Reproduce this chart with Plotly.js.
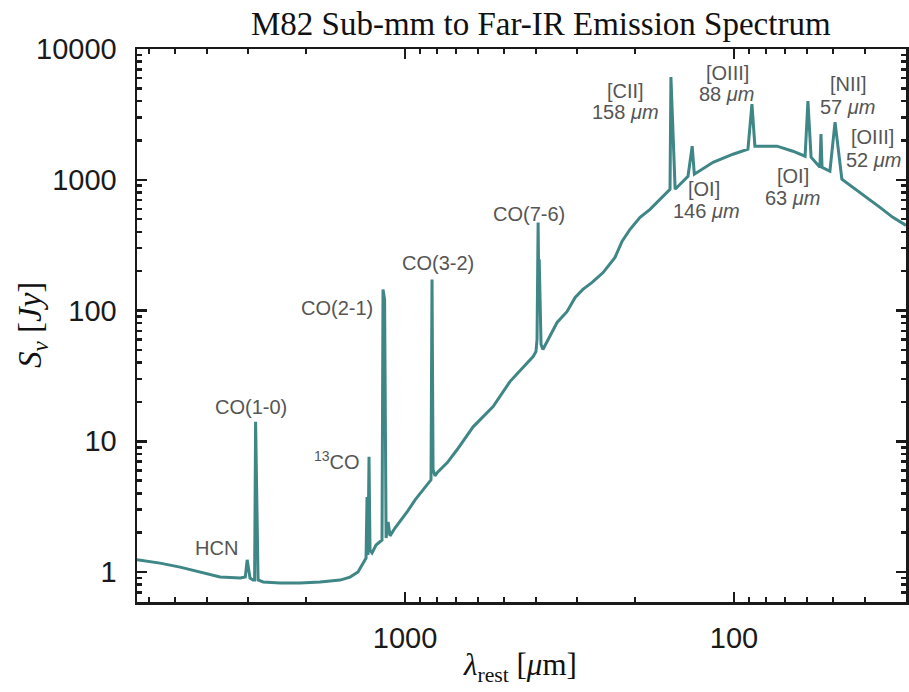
<!DOCTYPE html>
<html>
<head>
<meta charset="utf-8">
<script src="https://cdn.plot.ly/plotly-3.0.1.min.js"></script>
<style>html,body{margin:0;padding:0;background:#fff;}</style>
</head>
<body>
<div id="chart" style="width:909px;height:692px;"></div>
<script>
// Rest wavelength (µm) and flux density (Jy)
const wavelength_um = [6530, 5560, 4830, 4200, 3650, 3170, 3060, 3020, 2960, 2900, 2867, 2847, 2828, 2812, 2798, 2700, 2400, 2085, 1813, 1576, 1470, 1390, 1342, 1314, 1305, 1296, 1287, 1278, 1260, 1225, 1175, 1167, 1154, 1142, 1126, 1111, 1073, 986, 932, 882, 845, 834, 828, 822, 811, 799, 745, 695, 621, 540, 480, 426, 408, 400, 397, 394, 392, 391, 386, 381, 345, 322, 304, 288, 270, 250, 230, 219, 207, 193, 180, 168, 159, 156.5, 155.5, 151, 138, 134, 132, 115.8, 100.7, 90.7, 88.2, 86.4, 74.0, 66.2, 60.8, 59.6, 58.3, 55.6, 54.8, 54.4, 54.0, 51.1, 49.3, 47.0, 41.4, 36.0, 32.9, 30.0];
const flux_jy = [1.24, 1.17, 1.09, 1.00, 0.915, 0.90, 0.915, 1.24, 0.90, 0.87, 0.87, 14.1, 6.0, 2.7, 0.87, 0.84, 0.823, 0.823, 0.838, 0.868, 0.915, 1.0, 1.17, 1.28, 3.75, 1.35, 7.6, 1.47, 1.40, 1.61, 1.76, 145, 121, 1.82, 2.42, 1.89, 2.17, 2.88, 3.56, 4.25, 4.81, 5.07, 173, 6.05, 5.44, 5.74, 6.84, 8.61, 12.9, 18.4, 28.6, 40, 44.4, 48.5, 60, 472, 121, 246, 55, 50.3, 81, 98, 126, 145, 164, 195, 255, 338, 418, 516, 594, 709, 802, 846, 6100, 846, 1064, 1806, 1102, 1361, 1568, 1713, 3790, 1806, 1806, 1653, 1514, 3996, 1487, 1315, 1247, 2233, 1247, 1162, 2758, 1009, 802, 615, 516, 448];

const xTickVals = [1000, 100];
const xTickText = ["1000", "100"];
const xMinorVals = [6000, 5000, 4000, 3000, 2000, 900, 800, 700, 600, 500, 400, 300, 200, 90, 80, 70, 60, 50, 40];
const yTickVals = [1, 10, 100, 1000, 10000];
const yTickText = ["1", "10", "100", "1000", "10000"];
const yMinorVals = [0.6, 0.7, 0.8, 0.9, 2, 3, 4, 5, 6, 7, 8, 9, 20, 30, 40, 50, 60, 70, 80, 90, 200, 300, 400, 500, 600, 700, 800, 900, 2000, 3000, 4000, 5000, 6000, 7000, 8000, 9000];

const lineLabels = ["HCN", "CO(1-0)", "<sup>13</sup>CO", "CO(2-1)", "CO(3-2)", "CO(7-6)",
  "[CII]", "158 <i>μm</i>", "[OIII]", "88 <i>μm</i>", "[OI]", "146 <i>μm</i>",
  "[OI]", "63 <i>μm</i>", "[NII]", "57 <i>μm</i>", "[OIII]", "52 <i>μm</i>"];

// layout geometry (pixels)
const W = 909, H = 692, L = 137, R = 3, T = 49, B = 90;
const PW = W - L - R, PH = H - T - B;
function px(x) { return (x - L) / PW; }
function py(y) { return (H - B - y) / PH; }
const labelPos = [[216, 548], [251, 407], [337, 460], [337, 308], [438, 263], [529, 214],
  [625, 91], [625, 112], [727, 73], [726, 94], [704, 189], [706, 211],
  [793, 176], [792, 198], [848, 84], [847, 107], [872, 137], [873, 160]];

const annotations = lineLabels.map((t, i) => ({
  text: t, xref: 'paper', yref: 'paper', x: px(labelPos[i][0]), y: py(labelPos[i][1]),
  xanchor: 'center', yanchor: 'middle', showarrow: false,
  font: {family: 'Liberation Sans, Arial, sans-serif', size: 20, color: '#555555'}
}));
annotations.push({
  text: 'M82 Sub-mm to Far-IR Emission Spectrum', xref: 'paper', yref: 'paper',
  x: px(541), y: py(24), xanchor: 'center', yanchor: 'middle', showarrow: false,
  font: {family: 'Liberation Serif, Times New Roman, serif', size: 33, color: '#111'}
});
annotations.push({
  text: '<i>λ</i><sub>rest</sub> [<i>μ</i>m]', xref: 'paper', yref: 'paper',
  x: px(520), y: py(667), xanchor: 'center', yanchor: 'middle', showarrow: false,
  font: {family: 'Liberation Serif, Times New Roman, serif', size: 31, color: '#111'}
});
annotations.push({
  text: '<i>S</i><sub><i>ν</i></sub> [<i>Jy</i>]', xref: 'paper', yref: 'paper',
  x: px(32), y: py(325), xanchor: 'center', yanchor: 'middle', showarrow: false, textangle: -90,
  font: {family: 'Liberation Serif, Times New Roman, serif', size: 33, color: '#111'}
});

const axisCommon = {
  type: 'log', showline: true, linewidth: 2.5, linecolor: '#1a1a1a', mirror: 'allticks',
  ticks: 'inside', ticklen: 10, tickwidth: 2.5, tickcolor: '#1a1a1a', showgrid: false, zeroline: false,
  tickfont: {family: 'Liberation Sans, Arial, sans-serif', size: 29, color: '#1a1a1a'},
  tickmode: 'array'
};

const trace = {
  x: wavelength_um, y: flux_jy, type: 'scatter', mode: 'lines',
  line: {color: '#3f8686', width: 3}, hoverinfo: 'skip'
};

const layout = {
  width: W, height: H, margin: {l: L, r: R, t: T, b: B},
  paper_bgcolor: '#fff', plot_bgcolor: '#fff', showlegend: false,
  xaxis: Object.assign({}, axisCommon, {
    range: [Math.log10(6530), Math.log10(30)], tickvals: xTickVals, ticktext: xTickText,
    ticklabelstandoff: 9,
    minor: {tickmode: 'array', tickvals: xMinorVals, ticks: 'inside', ticklen: 5, tickwidth: 2.5, tickcolor: '#1a1a1a', showgrid: false}
  }),
  yaxis: Object.assign({}, axisCommon, {
    range: [Math.log10(0.59), 4], tickvals: yTickVals, ticktext: yTickText,
    ticklabelstandoff: 12,
    minor: {tickmode: 'array', tickvals: yMinorVals, ticks: 'inside', ticklen: 5, tickwidth: 2.5, tickcolor: '#1a1a1a', showgrid: false}
  }),
  annotations: annotations
};

Plotly.newPlot('chart', [trace], layout, {displayModeBar: false, staticPlot: true});
</script>
</body>
</html>
